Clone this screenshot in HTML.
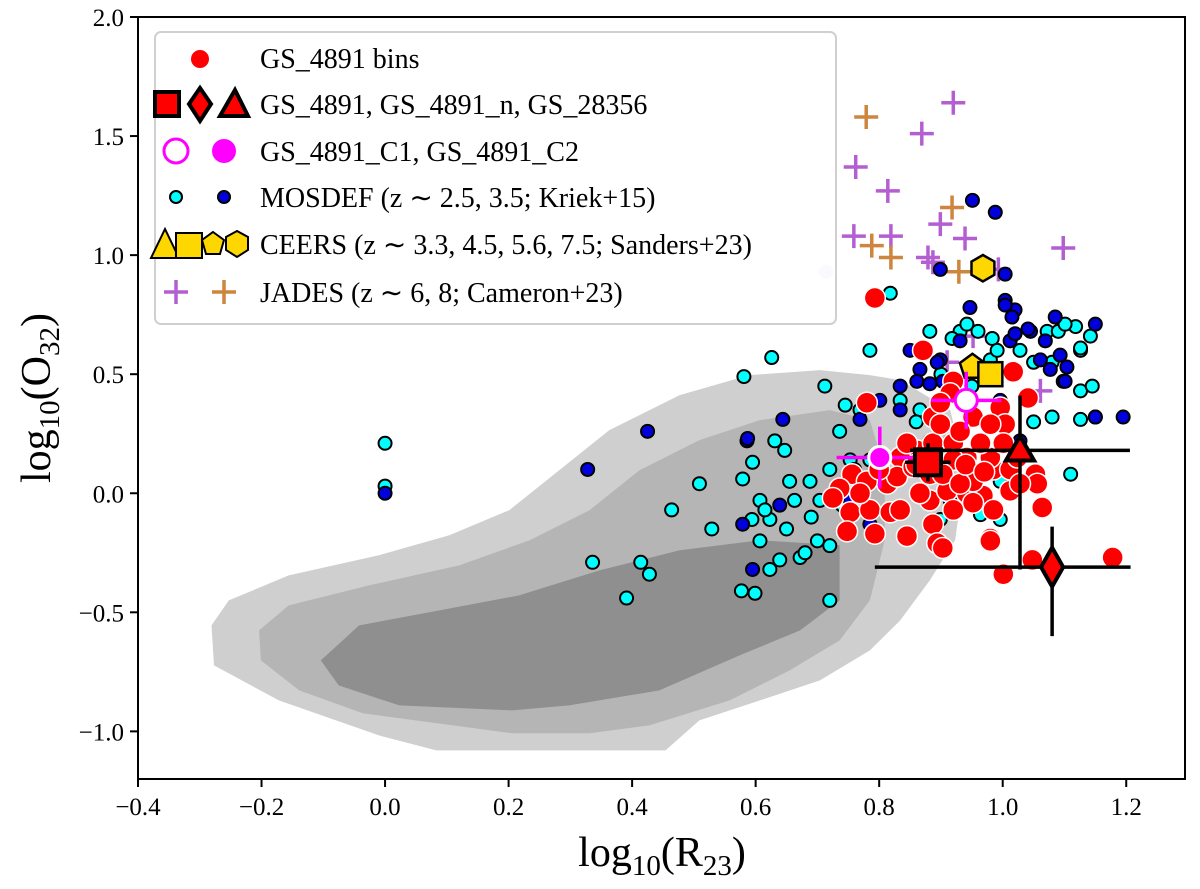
<!DOCTYPE html>
<html><head><meta charset="utf-8"><style>
body{margin:0;background:#fff}
svg{display:block;font-family:"Liberation Serif",serif}
</style></head><body>
<svg id="chart" width="1200" height="889" viewBox="0 0 1200 889" xmlns="http://www.w3.org/2000/svg"></svg>
<script>
// ---- data ----
const xTicks=[-0.4,-0.2,0.0,0.2,0.4,0.6,0.8,1.0,1.2];
const xTickLabels=["\u22120.4","\u22120.2","0.0","0.2","0.4","0.6","0.8","1.0","1.2"];
const yTicks=[-1.0,-0.5,0.0,0.5,1.0,1.5,2.0];
const yTickLabels=["\u22121.0","\u22120.5","0.0","0.5","1.0","1.5","2.0"];
const contourOuterX=[-0.281,-0.253,-0.156,-0.01,0.104,0.201,0.282,0.363,0.477,0.59,0.704,0.785,0.834,0.915,0.939,0.923,0.882,0.834,0.785,0.704,0.607,0.509,0.454,0.083,-0.01,-0.172,-0.277];
const contourOuterY=[-0.555,-0.45,-0.345,-0.26,-0.176,-0.071,0.097,0.265,0.412,0.496,0.517,0.496,0.475,0.349,0.097,-0.197,-0.366,-0.534,-0.66,-0.786,-0.87,-0.954,-1.08,-1.08,-1.017,-0.87,-0.723];
const contourMidX=[-0.204,-0.156,-0.026,0.12,0.234,0.331,0.412,0.509,0.607,0.72,0.785,0.809,0.809,0.785,0.736,0.655,0.558,0.428,0.331,0.206,-0.036,-0.139,-0.201];
const contourMidY=[-0.576,-0.471,-0.387,-0.303,-0.197,-0.071,0.097,0.223,0.307,0.349,0.307,0.097,-0.197,-0.45,-0.618,-0.744,-0.87,-0.975,-1.008,-1.008,-0.924,-0.828,-0.702];
const contourInnerX=[-0.104,-0.042,0.088,0.217,0.347,0.477,0.607,0.736,0.736,0.672,0.574,0.444,0.298,0.206,0.023,-0.075];
const contourInnerY=[-0.702,-0.555,-0.492,-0.429,-0.324,-0.239,-0.197,-0.218,-0.45,-0.576,-0.681,-0.828,-0.891,-0.912,-0.891,-0.807];
const mosdefLoX=[0,0,0.336,0.391,0.414,0.428,0.464,0.509,0.529,0.577,0.599,0.579,0.581,0.626,0.595,0.607,0.623,0.639,0.672,0.72,0.72,0.712,0.785,0.818,0.785,0.801,0.631,0.647,0.655,0.663,0.688,0.704,0.72,0.736,0.745,0.753,0.769,0.834,0.866,0.882,0.931,0.98,1.028,1.118,1.142,1.126,1.15,1.126,1.11,0.996,0.964,0.996,0.899,0.882,0.915,0.607,0.594,0.615,0.623,0.69,0.7,0.76,0.74,0.86,0.9,0.95,1.05,1.08,0.65,0.68,0.942,0.96,0.983,1.072,1.09,1.101,1.126,1.145,1.08,1.126,0.918,0.991,1.098,1.05];
const mosdefLoY=[0.21,0.03,-0.29,-0.44,-0.29,-0.34,-0.07,0.04,-0.15,-0.41,-0.42,0.06,0.49,0.57,0.13,-0.03,-0.11,-0.28,-0.27,-0.45,-0.22,0.45,0.6,0.84,0.14,0.1,0.22,0.18,0.05,-0.03,0.05,-0.03,0.1,0.26,0.37,0.14,0.35,0.39,0.35,0.68,0.68,0.56,0.6,0.7,0.66,0.6,0.32,0.43,0.08,0.05,-0.09,-0.11,-0.11,0.18,0.22,-0.2,-0.11,-0.07,-0.32,-0.1,-0.2,0.1,-0.05,0.3,0.5,0.45,0.3,0.55,-0.15,-0.25,0.71,0.68,0.65,0.68,0.68,0.71,0.61,0.45,0.32,0.31,0.65,0.6,0.47,0.55];
const mosdefHiX=[0,0.328,0.425,0.586,0.595,0.579,0.639,0.769,0.753,0.785,0.801,0.834,0.866,0.899,0.903,0.931,0.947,0.951,0.988,1.004,1.004,1.012,1.045,1.061,1.093,1.101,1.15,1.195,1.077,0.996,1.028,0.915,0.899,1.02,1.069,0.85,0.882,0.98,1.015,1.041,1.02,1.085,1.104,1.15,0.894,0.861,0.882,0.834,0.644,0.587,1.004];
const mosdefHiY=[0.0,0.1,0.26,0.22,-0.32,-0.13,-0.05,0.31,-0.03,-0.13,0.39,0.45,0.52,0.56,0.47,0.64,0.78,1.23,1.18,0.92,0.81,0.64,0.68,0.56,0.58,0.47,0.71,0.32,0.52,0.39,0.22,-0.03,0.94,0.77,0.64,0.6,0.22,0.14,0.74,0.69,0.67,0.74,0.53,0.32,0.55,0.47,0.46,0.35,0.31,0.23,0.79];
const binsX=[0.78,0.871,0.887,0.92,0.915,0.952,0.996,1.004,1.017,1.041,0.756,0.736,0.753,0.785,0.818,0.748,0.793,0.845,0.887,0.894,0.903,0.882,0.866,0.91,0.942,0.968,0.985,0.98,0.952,0.985,1.012,1.053,1.056,0.861,0.887,0.92,0.942,0.834,0.813,0.829,0.845,0.92,0.882,0.903,0.98,0.931,0.899,0.964,0.855,0.78,0.931,0.952,0.92,1.012,1.028,0.834,0.769,0.725,1.024,1.001,0.98,0.899,0.793,0.98,1.001,1.048,1.178,1.064,0.8,0.86,0.94,0.97];
const binsY=[0.38,0.6,0.32,0.47,0.42,0.32,0.36,0.29,0.51,0.4,0.08,0.02,-0.08,-0.07,-0.08,-0.16,-0.17,-0.18,-0.13,-0.21,-0.23,-0.03,0.0,0.01,0.0,-0.01,-0.07,-0.19,0.05,0.1,0.1,0.08,0.04,0.18,0.21,0.21,0.15,0.15,0.04,0.07,0.21,0.14,0.08,0.08,0.15,0.26,0.29,0.21,0.11,0.05,0.04,-0.04,-0.07,0.01,0.04,-0.07,0.0,-0.02,0.15,0.21,0.29,0.38,0.82,-0.2,-0.34,-0.28,-0.27,-0.06,0.1,0.12,0.12,0.09];
const jades6X=[0.762,0.814,0.869,0.92,0.759,0.819,0.899,0.939,1.098,0.879,0.887,0.993,0.952,0.91,1.061];
const jades6Y=[1.37,1.27,1.51,1.64,1.08,1.08,1.13,1.07,1.03,0.99,0.97,0.94,0.66,0.55,0.43];
const jades8X=[0.779,0.918,0.788,0.819,0.929];
const jades8Y=[1.58,1.2,1.04,0.99,0.93];
const ceersNames=["ceers-z5.6","ceers-z4.5","ceers-z7.5"];
const ceersX=[0.951,0.98,0.968];
const ceersY=[0.53,0.5,0.945];
const ceersShapes=["pentagon","square","hexagon"];
const mainNames=["gs4891","gs4891-n","gs28356"];
const mainX=[0.879,1.08,1.028];
const mainY=[0.13,-0.31,0.18];
const mainXerrLo=[0.037,0.287,0.178];
const mainXerrHi=[0.037,0.127,0.178];
const mainYerrLo=[0.08,0.29,0.5];
const mainYerrHi=[0.08,0.17,0.23];
const mainShapes=["square","diamond","triangle"];
const clumpNames=["gs4891-c1","gs4891-c2"];
const clumpX=[0.941,0.801];
const clumpY=[0.39,0.15];
const clumpXerr=[0.057,0.07];
const clumpYerr=[0.12,0.13];
const faintX=[0.714];
const faintY=[0.93];

// ---- axes ----
const L=138,R=1185,T=17,B=779;
const xMin=-0.4,xMax=1.3,yMin=-1.2,yMax=2.0;
const sx=v=>L+(v-xMin)/(xMax-xMin)*(1188-L);
const sy=v=>B-(v-yMin)/(yMax-yMin)*(B-T);
const NS="http://www.w3.org/2000/svg";
const svg=document.getElementById('chart');
function mk(tag,attrs,parent){const e=document.createElementNS(NS,tag);for(const k in attrs)e.setAttribute(k,attrs[k]);(parent||svg).appendChild(e);return e;}
function poly(cx,cy,r,n,rot){let p=[];for(let i=0;i<n;i++){const a=rot+i*2*Math.PI/n;p.push((cx+r*Math.cos(a)).toFixed(1)+','+(cy+r*Math.sin(a)).toFixed(1));}return p.join(' ');}
function shape(s,cx,cy,r,attrs,parent){
  let e;
  if(s==='circle')e=mk('circle',Object.assign({cx,cy,r},attrs),parent);
  else if(s==='square')e=mk('rect',Object.assign({x:cx-r,y:cy-r,width:2*r,height:2*r},attrs),parent);
  else if(s==='diamond')e=mk('polygon',Object.assign({points:`${cx},${cy-r*1.5} ${cx+r*0.85},${cy} ${cx},${cy+r*1.5} ${cx-r*0.85},${cy}`},attrs),parent);
  else if(s==='triangle')e=mk('polygon',Object.assign({points:poly(cx,cy+r*0.15,r*1.25,3,-Math.PI/2)},attrs),parent);
  else if(s==='pentagon')e=mk('polygon',Object.assign({points:poly(cx,cy,r*1.1,5,-Math.PI/2)},attrs),parent);
  else if(s==='hexagon')e=mk('polygon',Object.assign({points:poly(cx,cy,r*1.1,6,-Math.PI/2)},attrs),parent);
  else if(s==='plus'){e=mk('path',Object.assign({d:`M${cx-r},${cy}H${cx+r}M${cx},${cy-r}V${cy+r}`,fill:'none'},attrs),parent);}
  return e;
}
const plot=mk('g',{});



[[contourOuterX,contourOuterY,'#cfcfcf','contour-outer'],[contourMidX,contourMidY,'#b5b5b5','contour-middle'],[contourInnerX,contourInnerY,'#8f8f8f','contour-inner']].forEach(([xs,ys,c,n])=>{
  const e=mk('polygon',{points:xs.map((v,i)=>sx(v).toFixed(1)+','+sy(ys[i]).toFixed(1)).join(' '),fill:c},plot);
  
  
});
faintX.forEach((v,i)=>{const e=mk('circle',{cx:sx(v),cy:sy(faintY[i]),r:7,fill:'#c8c8f0',opacity:0.8},plot);
  
  });
jades6X.forEach((v,i)=>{const e=shape('plus',sx(v),sy(jades6Y[i]),12,{stroke:'#b45fd1','stroke-width':3.5},plot);
  
  });
jades8X.forEach((v,i)=>{const e=shape('plus',sx(v),sy(jades8Y[i]),12,{stroke:'#cd853f','stroke-width':3.5},plot);
  
  });
mosdefLoX.forEach((v,i)=>{const e=mk('circle',{cx:sx(v),cy:sy(mosdefLoY[i]),r:6.5,fill:'#00ffff',stroke:'#000','stroke-width':2},plot);
  
  });
mosdefHiX.forEach((v,i)=>{const e=mk('circle',{cx:sx(v),cy:sy(mosdefHiY[i]),r:6.5,fill:'#0000dd',stroke:'#000','stroke-width':2},plot);
  
  });
binsX.forEach((v,i)=>{const e=mk('circle',{cx:sx(v),cy:sy(binsY[i]),r:10.5,fill:'#ff0000',stroke:'#fff','stroke-width':1.5},plot);
  
  });
ceersX.forEach((v,i)=>{const e=shape(ceersShapes[i],sx(v),sy(ceersY[i]),12,{fill:'#ffd700',stroke:'#000','stroke-width':2.5},plot);
  
  });
clumpX.forEach((v,i)=>{
  const cx=sx(v),cy=sy(clumpY[i]);
  const eb=mk('path',{d:`M${sx(v-clumpXerr[i])},${cy}H${sx(v+clumpXerr[i])}M${cx},${sy(clumpY[i]+clumpYerr[i])}V${sy(clumpY[i]-clumpYerr[i])}`,stroke:'#ff00ff','stroke-width':3.5,fill:'none'},plot);
  
  
  const e=mk('circle',{cx,cy,r:11,fill:i===0?'#fff':'#ff00ff',stroke:i===0?'#ff00ff':'#fff','stroke-width':3},plot);
  
  
});
mainX.forEach((v,i)=>{
  const cx=sx(v),cy=sy(mainY[i]);
  const eb=mk('path',{d:`M${sx(v-mainXerrLo[i])},${cy}H${sx(v+mainXerrHi[i])}M${cx},${sy(mainY[i]+mainYerrHi[i])}V${sy(mainY[i]-mainYerrLo[i])}`,stroke:'#000','stroke-width':3.5,fill:'none'},plot);
  
  
  const e=shape(mainShapes[i],cx,cy,13,{fill:'#ff0000',stroke:'#000','stroke-width':4,'stroke-linejoin':'miter'},plot);
  
  
});

const frame=mk('rect',{x:L,y:T,width:R-L,height:B-T,fill:'none',stroke:'#000','stroke-width':2});


xTicks.forEach((v,i)=>{
  const x=sx(v);
  mk('line',{x1:x,x2:x,y1:B,y2:B+8,stroke:'#000','stroke-width':2});
  const t=mk('text',{x:x,y:B+36,'text-anchor':'middle','font-size':25});
  t.textContent=xTickLabels[i];
  
  
});
yTicks.forEach((v,i)=>{
  const y=sy(v);
  mk('line',{x1:L-8,x2:L,y1:y,y2:y,stroke:'#000','stroke-width':2});
  const t=mk('text',{x:L-14,y:y+9,'text-anchor':'end','font-size':25});
  t.textContent=yTickLabels[i];
  
  
});
</script>
<svg style="position:absolute;left:0;top:0" width="1200" height="889" xmlns="http://www.w3.org/2000/svg" font-family="Liberation Serif, serif">
  <text x="662" y="866" text-anchor="middle" font-size="42">log<tspan font-size="29" dy="9">10</tspan><tspan dy="-9">(R</tspan><tspan font-size="29" dy="9">23</tspan><tspan dy="-9">)</tspan></text>
  <text transform="translate(50,398) rotate(-90)" text-anchor="middle" font-size="42">log<tspan font-size="29" dy="9">10</tspan><tspan dy="-9">(O</tspan><tspan font-size="29" dy="9">32</tspan><tspan dy="-9">)</tspan></text>
  <g>
    <rect x="155" y="32" width="681" height="292" rx="6" fill="#fff" fill-opacity="0.85" stroke="#d0d0d0" stroke-width="2"/>
    <circle cx="200" cy="59" r="9" fill="#ff0000"/>
    <text x="260" y="68" font-size="28">GS_4891 bins</text>
    <rect x="155" y="92" width="24" height="24" fill="#ff0000" stroke="#000" stroke-width="4"/>
    <polygon points="200,88 211,104 200,121 189,104" fill="#ff0000" stroke="#000" stroke-width="4"/>
    <polygon points="235,90 248,116 220,116" fill="#ff0000" stroke="#000" stroke-width="4"/>
    <text x="260" y="114" font-size="28">GS_4891, GS_4891_n, GS_28356</text>
    <circle cx="176" cy="151" r="12" fill="#fff" stroke="#ff00ff" stroke-width="3"/>
    <circle cx="224" cy="151" r="12" fill="#ff00ff"/>
    <text x="260" y="161" font-size="28">GS_4891_C1, GS_4891_C2</text>
    <circle cx="176" cy="197" r="6" fill="#00ffff" stroke="#000" stroke-width="2"/>
    <circle cx="224" cy="197" r="6" fill="#0000dd" stroke="#000" stroke-width="2"/>
    <text x="260" y="207" font-size="28">MOSDEF (z ∼ 2.5, 3.5; Kriek+15)</text>
    <polygon points="165,229 179,258 151,258" fill="#ffd700" stroke="#000" stroke-width="2"/>
    <rect x="176" y="233" width="26" height="25" fill="#ffd700" stroke="#000" stroke-width="2"/>
    <polygon points="213,232 224,240 220,254 206,254 202,240" fill="#ffd700" stroke="#000" stroke-width="2"/>
    <polygon points="237,231 248,237 248,250 237,257 226,250 226,237" fill="#ffd700" stroke="#000" stroke-width="2"/>
    <text x="260" y="254" font-size="28">CEERS (z ∼ 3.3, 4.5, 5.6, 7.5; Sanders+23)</text>
    <path d="M164,292H188M176,280V304" stroke="#b45fd1" stroke-width="3.5"/>
    <path d="M212,292H236M224,280V304" stroke="#cd853f" stroke-width="3.5"/>
    <text x="260" y="302" font-size="28">JADES (z ∼ 6, 8; Cameron+23)</text>
  </g>
</svg>
</body></html>
